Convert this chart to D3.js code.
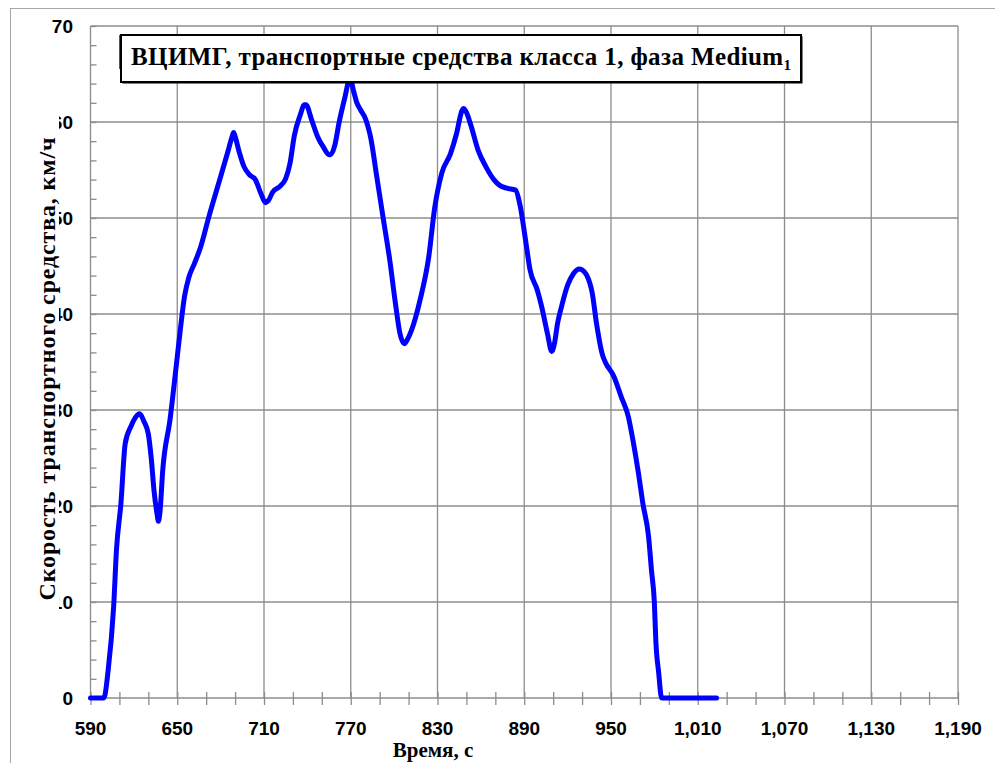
<!DOCTYPE html>
<html lang="ru">
<head>
<meta charset="utf-8">
<title>ВЦИМГ, фаза Medium1</title>
<script src="https://cdn.jsdelivr.net/npm/d3@7"></script>
<style>
  html, body { margin: 0; padding: 0; background: #fff; }
  svg { display: block; }
  .tick-label { font-family: 'Liberation Sans Narrow', 'Arial Narrow', 'Liberation Sans', Arial, sans-serif; font-weight: bold; font-size: 19px; fill: #000; }
</style>
</head>
<body>
<svg id="chart" width="995" height="763"></svg>
<script>
'use strict';

// Time, s
const TIME = [
  590, 599, 600, 602, 606, 608, 611, 614, 618, 621, 624, 627, 630, 632, 634, 636, 637, 638,
  640, 645, 649, 652, 655, 658, 662, 666, 672, 679, 685, 688, 689, 690, 693, 696, 700, 704,
  708, 711, 713, 716, 721, 725, 728, 731, 735, 738, 739, 743, 747, 751, 755, 756, 759, 762,
  766, 769, 770, 772, 774, 777, 780, 784, 788, 792, 797, 801, 804, 807, 809, 812, 818, 824,
  828, 833, 839, 843, 847, 848, 850, 853, 858, 864, 869, 873, 878, 884, 887, 891, 894, 899,
  902, 906, 909, 911, 913, 916, 920, 924, 928, 930, 933, 937, 940, 944, 946, 952, 957, 962,
  965, 969, 972, 976, 978, 980, 981, 983, 985, 1023
];

// Vehicle speed, km/h
const SPEED = [
  0, 0, 0.3, 2.6, 9.5, 15.5, 20.2, 26.5, 28.3, 29.2, 29.6, 28.8, 27.5, 25, 21.5, 19.2, 18.4, 19.3,
  23.8, 29, 34.2, 38.2, 41.8, 43.8, 45.3, 46.9, 50.2, 53.8, 56.9, 58.5, 58.9, 58.5, 56.8, 55.4, 54.5, 54,
  52.5, 51.6, 51.8, 52.7, 53.3, 54.1, 55.7, 58.6, 60.7, 61.8, 61.8, 60.2, 58.5, 57.4, 56.6, 56.6, 57.6, 60,
  62.6, 64.3, 64.3, 63.2, 62.1, 61.2, 60.4, 58.2, 54.3, 50.4, 45.6, 41, 38, 36.9, 37.3, 38.3, 41.5, 46,
  51, 54.7, 56.7, 58.7, 61.2, 61.4, 61, 59.7, 57.1, 55.2, 54, 53.4, 53.1, 52.9, 51.4, 47.6, 44.6, 42.5,
  40.8, 38, 36.1, 37, 39, 40.9, 43, 44.2, 44.7, 44.6, 44.1, 42.2, 39, 35.8, 35, 33.5, 31.4, 29.3,
  27, 23.4, 20.3, 16.8, 13.3, 9.9, 6, 2.6, 0, 0
];

const X_TICKS = [590, 650, 710, 770, 830, 890, 950, 1010, 1070, 1130, 1190];
const Y_TICKS = [0, 10, 20, 30, 40, 50, 60, 70];

const TITLE = 'ВЦИМГ, транспортные средства класса 1, фаза Medium';
const TITLE_SUB = '1';
const X_TITLE = 'Время, с';
const Y_TITLE = 'Скорость транспортного средства, км/ч';

const LAYOUT = {
  left: 90.5, right: 958, top: 26, bottom: 698,
};
const GRID_COLOR = '#8c8c8c';
const SERIF = "'Liberation Serif', 'Times New Roman', Times, serif";

const svg = d3.select('#chart');

// Outer chart frame
svg.append('rect')
  .attr('x', 10.5).attr('y', 8.5)
  .attr('width', 1000).attr('height', 800)
  .attr('fill', 'none')
  .attr('stroke', '#a6a6a6')
  .attr('stroke-width', 1);

const x = d3.scaleLinear().domain([590, 1190]).range([LAYOUT.left, LAYOUT.right]);
const y = d3.scaleLinear().domain([0, 70]).range([LAYOUT.bottom, LAYOUT.top]);

// Grid
const grid = svg.append('g').attr('class', 'grid');
grid.selectAll('line.v')
  .data(X_TICKS.slice(1))
  .join('line')
  .attr('class', 'v')
  .attr('x1', d => x(d)).attr('x2', d => x(d))
  .attr('y1', LAYOUT.top).attr('y2', LAYOUT.bottom)
  .attr('stroke', GRID_COLOR).attr('stroke-width', 1.3);
grid.selectAll('line.h')
  .data(Y_TICKS.slice(1))
  .join('line')
  .attr('class', 'h')
  .attr('x1', LAYOUT.left).attr('x2', LAYOUT.right)
  .attr('y1', d => y(d)).attr('y2', d => y(d))
  .attr('stroke', GRID_COLOR).attr('stroke-width', 1.3);

// Axes: ticks cross the axis line (Excel "cross" style)
const xMinor = d3.range(590, 1191, 20);
const yMinor = d3.range(0, 71, 2);

const xAxisG = svg.append('g')
  .attr('transform', `translate(0,${LAYOUT.bottom})`)
  .call(d3.axisBottom(x).tickValues(xMinor).tickSize(7).tickFormat(''));
xAxisG.selectAll('.tick line').attr('y1', -6);
xAxisG.select('.domain').remove();
xAxisG.append('line')
  .attr('x1', LAYOUT.left).attr('x2', LAYOUT.right);
xAxisG.selectAll('line').attr('stroke', GRID_COLOR).attr('stroke-width', 1.3);

const yAxisG = svg.append('g')
  .attr('transform', `translate(${LAYOUT.left},0)`)
  .call(d3.axisLeft(y).tickValues(yMinor).tickSize(5).tickFormat(''));
yAxisG.selectAll('.tick line').attr('x2', 6);
yAxisG.select('.domain').remove();
yAxisG.append('line')
  .attr('y1', LAYOUT.top).attr('y2', LAYOUT.bottom);
yAxisG.selectAll('line').attr('stroke', GRID_COLOR).attr('stroke-width', 1.3);

// Tick labels
svg.append('g').selectAll('text')
  .data(X_TICKS)
  .join('text')
  .attr('class', 'tick-label')
  .attr('x', d => x(d))
  .attr('y', 735)
  .attr('text-anchor', 'middle')
  .text(d3.format(','));

svg.append('g').selectAll('text')
  .data(Y_TICKS)
  .join('text')
  .attr('class', 'tick-label')
  .attr('x', 73)
  .attr('y', d => y(d))
  .attr('dy', '0.36em')
  .attr('text-anchor', 'end')
  .text(d => d);

// Speed curve
const line = d3.line()
  .x((d, i) => x(TIME[i]))
  .y(d => y(d))
  .curve(d3.curveMonotoneX);

svg.append('path')
  .datum(SPEED)
  .attr('d', line)
  .attr('fill', 'none')
  .attr('stroke', '#0000ff')
  .attr('stroke-width', 5)
  .attr('stroke-linejoin', 'round')
  .attr('stroke-linecap', 'round');

// Y axis title (its white box hides most of the first digit of tick labels)
svg.append('rect')
  .attr('x', 28).attr('y', 100)
  .attr('width', 31).attr('height', 530)
  .attr('fill', '#fff');
svg.append('text')
  .attr('transform', 'translate(55,369) rotate(-90)')
  .attr('text-anchor', 'middle')
  .attr('font-family', SERIF)
  .attr('font-weight', 'bold')
  .attr('font-size', 24)
  .attr('textLength', 463)
  .attr('lengthAdjust', 'spacing')
  .text(Y_TITLE);

// X axis title
svg.append('text')
  .attr('x', 433).attr('y', 757)
  .attr('text-anchor', 'middle')
  .attr('font-family', SERIF)
  .attr('font-weight', 'bold')
  .attr('font-size', 21)
  .text(X_TITLE);

// Chart title box
const titleBox = { x: 121, y: 35, w: 680, h: 47 };
svg.append('line')
  .attr('x1', 120).attr('x2', 120)
  .attr('y1', titleBox.y).attr('y2', titleBox.y + 34)
  .attr('stroke', '#555').attr('stroke-width', 2);
svg.append('rect')
  .attr('x', titleBox.x + 1.5).attr('y', titleBox.y + 1.5)
  .attr('width', titleBox.w).attr('height', titleBox.h)
  .attr('fill', '#000');
svg.append('rect')
  .attr('x', titleBox.x).attr('y', titleBox.y)
  .attr('width', titleBox.w).attr('height', titleBox.h)
  .attr('fill', '#fff')
  .attr('stroke', '#000')
  .attr('stroke-width', 2);

const title = svg.append('text')
  .attr('x', 131).attr('y', 65)
  .attr('font-family', SERIF)
  .attr('font-weight', 'bold')
  .attr('font-size', 25)
  .attr('textLength', 660)
  .attr('lengthAdjust', 'spacing');
title.append('tspan').text(TITLE);
title.append('tspan')
  .attr('font-size', 15)
  .attr('dy', 5)
  .text(TITLE_SUB);
</script>
</body>
</html>
